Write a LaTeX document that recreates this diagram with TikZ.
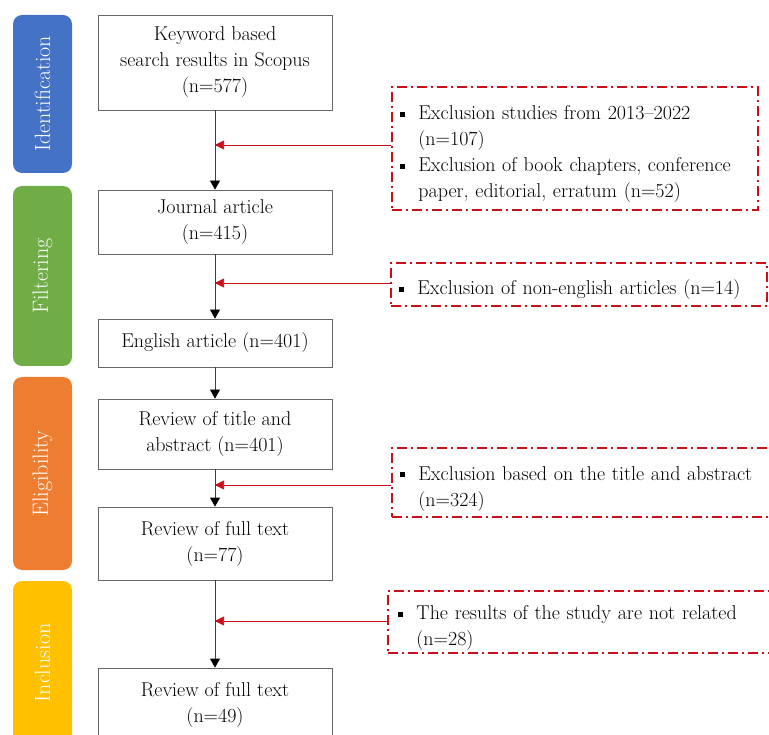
\documentclass[tikz,border=0pt]{standalone}
\usepackage{xcolor}
\usepackage{tikz}
\usetikzlibrary{positioning}
\usetikzlibrary{arrows.meta}
\definecolor{idblue}{RGB}{68,114,196}
\definecolor{figreen}{RGB}{112,173,71}
\definecolor{elorange}{RGB}{237,125,49}
\definecolor{inyellow}{RGB}{255,192,0}
\definecolor{exred}{RGB}{200,16,24}
\newcommand{\txtfont}{\fontsize{20}{26}\selectfont}
\newcommand{\exitem}[1]{\par\noindent\hangindent=18pt\hangafter=1\makebox[18pt][l]{\raisebox{3pt}{\rule{5pt}{5pt}}}#1}
\tikzstyle{stepbox}=[rectangle,draw=black!60,fill=white,line width=0.8pt,minimum width=234pt,align=center,font=\txtfont,inner sep=0pt]
\tikzstyle{stage}=[rectangle,rounded corners=9pt,text=white,rotate=90,minimum height=59pt,font=\fontsize{22}{24}\selectfont,inner sep=0pt]
\tikzstyle{exbox}=[rectangle,draw=exred,line width=1.6pt,dash pattern=on 10pt off 4pt on 2pt off 4pt,inner sep=0pt]
\tikzstyle{extext}=[text width=370pt,font=\txtfont,inner sep=0pt]
\tikzstyle{flowedge}=[draw,black!75,line width=0.8pt,-{Triangle[length=9pt,width=10pt,black]}]
\tikzstyle{redge}=[draw,exred,line width=0.6pt,-{Triangle[length=9pt,width=9pt]}]

\begin{document}
\begin{tikzpicture}[x=1pt,y=-1pt]
 \useasboundingbox (0,0) rectangle (769,735);
 \clip (0,0) rectangle (769,735);

 %stages
 \foreach \y/\len/\name/\col/\label in {94/158/sid/idblue/Identification, 276/180/sfi/figreen/Filtering, 473.5/193/sel/elorange/Eligibility, 663/164/sin/inyellow/Inclusion}
   \node[stage, fill=\col, minimum width=\len] (\name) at (42.5,\y) {\label};

 %main flow
 \foreach \y/\h/\name/\label in {62.5/95/kw/{Keyword based\\search results in Scopus\\(n=577)}, 222/64/ja/{Journal article\\(n=415)}, 343/48/en/{English article (n=401)}, 434/70/rt/{Review of title and\\abstract (n=401)}, 543.5/73/ft/{Review of full text\\(n=77)}, 704.5/73/fi/{Review of full text\\(n=49)}}
   \node[stepbox, minimum height=\h] (\name) at (215,\y) {\label};

 \foreach \source/ \dest in {kw/ja, ja/en, en/rt, rt/ft, ft/fi}
   \path[flowedge] (\source) -- (\dest);

 %exclusions
 \foreach \x/\y/\w/\h/\name in {575/148.5/366/123/ex1, 579/284.5/376/43/ex2, 588.5/482.5/393/69/ex3, 586.5/622/397/62/ex4}
   \node[exbox, minimum width=\w, minimum height=\h] (\name) at (\x,\y) {};

 \node[extext, right=9pt of ex1.west] (ex1t) {\raggedright
   \exitem{Exclusion studies from 2013--2022\newline (n=107)}
   \exitem{Exclusion of book chapters, conference\newline paper, editorial, erratum (n=52)}\par};
 \node[extext, right=9pt of ex2.west] (ex2t) {\raggedright
   \exitem{Exclusion of non-english articles (n=14)}\par};
 \node[extext, right=9pt of ex3.west] (ex3t) {\raggedright
   \exitem{Exclusion based on the title and abstract\newline (n=324)}\par};
 \node[extext, right=11pt of ex4.west] (ex4t) {\raggedright
   \exitem{The results of the study are not related\newline (n=28)}\par};

 \foreach \y/\name/\src in {145/j1/ex1, 283/j2/ex2, 485/j3/ex3, 621/j4/ex4}
 {
   \coordinate (\name) at (215,\y);
   \path[redge] (\src.west |- \name) -- (\name);
 }

\end{tikzpicture}
\end{document}
